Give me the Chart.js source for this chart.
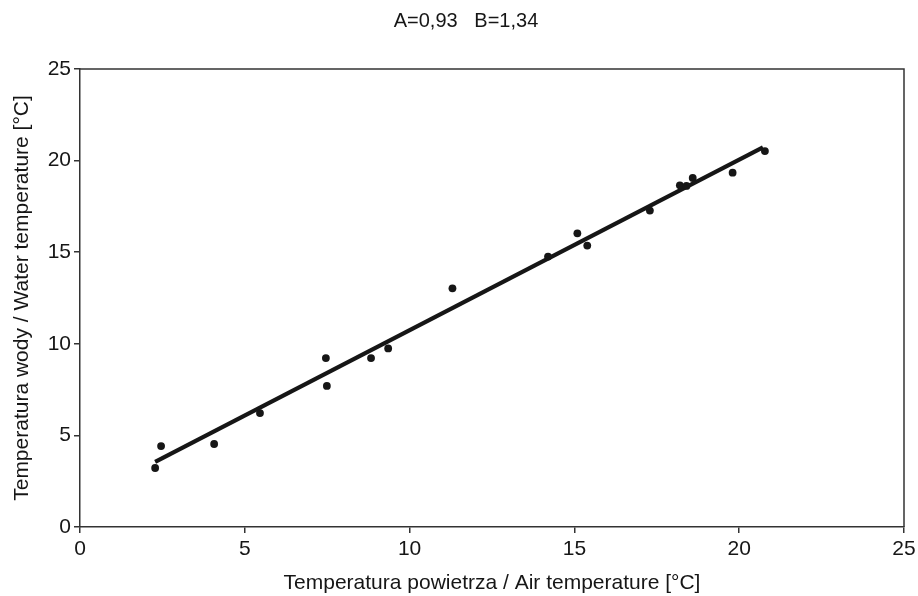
<!DOCTYPE html>
<html><head><meta charset="utf-8">
<script src="https://cdn.jsdelivr.net/npm/chart.js@4/dist/chart.umd.min.js"></script>
<style>html,body{margin:0;padding:0;background:#fff}#wrap{width:918px;height:596px}</style>
</head><body><div id="wrap"><canvas id="c" width="918" height="596"></canvas></div>
<script>
const airTemp   = [2.28, 2.46, 4.07, 5.46, 7.46, 7.49, 8.83, 9.35, 11.30, 14.20, 15.09, 15.39, 17.29, 18.20, 18.40, 18.59, 19.80, 20.78];
const waterTemp = [3.22, 4.42, 4.53, 6.22, 9.22, 7.70, 9.22, 9.75, 13.03, 14.76, 16.03, 15.36, 17.27, 18.65, 18.62, 19.05, 19.34, 20.52];
const fitX = [2.28, 20.72];
const fitY = [3.55, 20.72];
const xTicks = [0, 5, 10, 15, 20, 25];
const yTicks = [0, 5, 10, 15, 20, 25];
const chartTitle = 'A=0,93   B=1,34';
const xTitle = 'Temperatura powietrza / Air temperature [°C]';
const yTitle = 'Temperatura wody / Water temperature [°C]';

const FONT = "'Liberation Sans Narrow','Arial Narrow','Liberation Sans',Arial,sans-serif";
const INK = '#161616';

const pts = airTemp.map((x, i) => ({x, y: waterTemp[i]}));
const fit = fitX.map((x, i) => ({x, y: fitY[i]}));

const frame = {
  id: 'frame',
  afterDraw(chart) {
    const {ctx, chartArea: a} = chart;
    ctx.save();
    ctx.strokeStyle = '#333';
    ctx.lineWidth = 1.5;
    ctx.beginPath();
    ctx.moveTo(a.left, a.top); ctx.lineTo(a.right, a.top); ctx.lineTo(a.right, a.bottom);
    ctx.stroke();
    ctx.fillStyle = INK;
    ctx.font = '20px ' + FONT;
    ctx.textAlign = 'center';
    ctx.textBaseline = 'middle';
    ctx.fillText(chartTitle, 466, 21);
    ctx.restore();
  }
};

new Chart(document.getElementById('c'), {
  type: 'scatter',
  data: {
    datasets: [
      {data: fit, type: 'line', showLine: true, borderColor: INK, borderWidth: 4.2, pointRadius: 0, fill: false, order: 2},
      {data: pts, backgroundColor: INK, borderColor: INK, pointRadius: 3.9, pointBorderWidth: 0, order: 1}
    ]
  },
  options: {
    responsive: false,
    animation: false,
    layout: {padding: {top: 69, right: 14, left: 0, bottom: 0}},
    plugins: {legend: {display: false}, tooltip: {enabled: false}},
    scales: {
      x: {
        type: 'linear', min: 0, max: 25,
        afterBuildTicks: s => { s.ticks = xTicks.map(v => ({value: v})); },
        afterFit: s => { s.height = 596 - 527; s.paddingRight = 0; s.paddingLeft = 0; },
        grid: {display: true, drawOnChartArea: false, drawTicks: true, tickLength: 6, color: '#333', lineWidth: 1.5},
        border: {display: true, color: '#333', width: 1.5},
        ticks: {color: INK, font: {family: FONT, size: 21}, padding: 4, maxRotation: 0},
        title: {display: true, text: xTitle, color: INK, font: {family: FONT, size: 21}, padding: {top: 0, bottom: 0}}
      },
      y: {
        type: 'linear', min: 0, max: 25,
        afterBuildTicks: s => { s.ticks = yTicks.map(v => ({value: v})); },
        afterFit: s => { s.width = 80; },
        grid: {display: true, drawOnChartArea: false, drawTicks: true, tickLength: 6, color: '#333', lineWidth: 1.5},
        border: {display: true, color: '#333', width: 1.5},
        ticks: {color: INK, font: {family: FONT, size: 21}, padding: 3},
        title: {display: true, text: yTitle, color: INK, font: {family: FONT, size: 21}, padding: {top: 10, bottom: 4}}
      }
    }
  },
  plugins: [frame]
});
</script></body></html>
